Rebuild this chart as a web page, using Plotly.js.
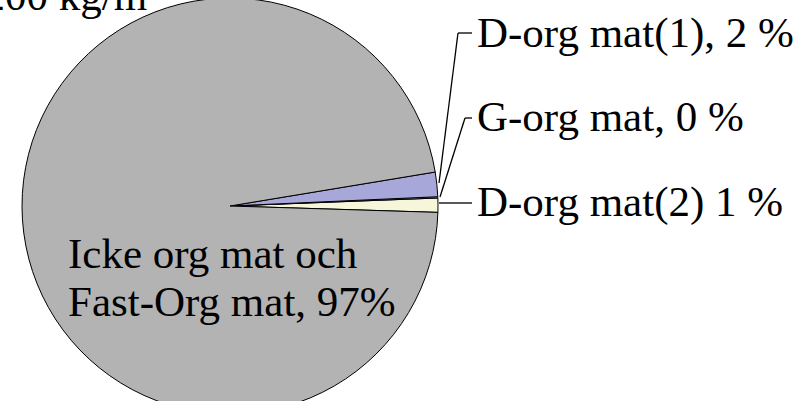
<!DOCTYPE html>
<html>
<head>
<meta charset="utf-8">
<script src="https://cdn.plot.ly/plotly-3.0.1.min.js"></script>
<style>
  html, body { margin: 0; padding: 0; overflow: hidden; background: #fff; }
  #plotPie { margin-top: -10px; }
</style>
</head>
<body>
<div id="plotPie"></div>
<script>
'use strict'

// slices, counterclockwise from just below 3 o'clock
let sliceLabels = ['D-org mat(2)', 'G-org mat', 'D-org mat(1)', 'Icke org mat och Fast-Org mat']
let sliceValues = [1.1, 0.1, 1.9, 96.9]
let sliceColors = ['#f6f6da', '#c8c8e8', '#a7a7da', '#b3b3b3']

// texts shown next to the pie
let outsideTexts = ['D-org mat(1), 2 %', 'G-org mat, 0 %', 'D-org mat(2) 1 %']
let insideLines = ['Icke org mat och', 'Fast-Org mat, 97%']
let titleText = '1200 kg/m³'

// the div is pulled up by OFF px so the pie may start above the window
let W = 798, H = 430, OFF = 10
function px(x){ return x / W }
function py(y){ return 1 - (y + OFF) / H }

let pieDiv = document.getElementById('plotPie')
let font = {family: 'Liberation Serif', size: 43, color: '#000'}

let pie_data = [{
  type: 'pie',
  values: sliceValues,
  labels: sliceLabels,
  marker: {colors: sliceColors, line: {color: '#000', width: 1}},
  sort: false,
  direction: 'counterclockwise',
  rotation: 87.8,
  textinfo: 'none',
  hoverinfo: 'label+percent',
  domain: {x: [px(22), px(438)], y: [py(414), py(-2)]}
}]

// leader lines: [x0,y0,x1,y1,x2,y2]
let leaders = [
  [439, 183, 458, 33, 472, 33],
  [440, 197, 465, 118, 472, 118],
  [439, 203, 457, 203, 472, 203]
]
let shapes = []
for (let l of leaders){
  shapes.push({type: 'line', xref: 'paper', yref: 'paper', x0: px(l[0]), y0: py(l[1]), x1: px(l[2]), y1: py(l[3]), line: {color: '#000', width: 1.3}})
  shapes.push({type: 'line', xref: 'paper', yref: 'paper', x0: px(l[2]), y0: py(l[3]), x1: px(l[4]), y1: py(l[5]), line: {color: '#000', width: 1.3}})
}

let labelY = [33, 117, 202]
let annotations = []
for (let i = 0; i < outsideTexts.length; i++){
  annotations.push({xref: 'paper', yref: 'paper', x: px(475), y: py(labelY[i]), xanchor: 'left', yanchor: 'middle',
    text: outsideTexts[i], showarrow: false, font: font})
}
let insideY = [253, 301]
for (let i = 0; i < insideLines.length; i++){
  annotations.push({xref: 'paper', yref: 'paper', x: px(66), y: py(insideY[i]), xanchor: 'left', yanchor: 'middle',
    text: insideLines[i], showarrow: false, font: font})
}
// title, cut off by the left edge as in the original
annotations.push({xref: 'paper', yref: 'paper', x: px(162), y: py(-4), xanchor: 'right', yanchor: 'middle',
  text: titleText, showarrow: false, font: font})

let layout = {
  width: W, height: H,
  margin: {l: 0, r: 0, t: 0, b: 0},
  showlegend: false,
  paper_bgcolor: '#fff',
  font: {family: 'Liberation Serif'},
  shapes: shapes,
  annotations: annotations
}

Plotly.newPlot(pieDiv, pie_data, layout, {displayModeBar: false, staticPlot: true})
</script>
</body>
</html>
